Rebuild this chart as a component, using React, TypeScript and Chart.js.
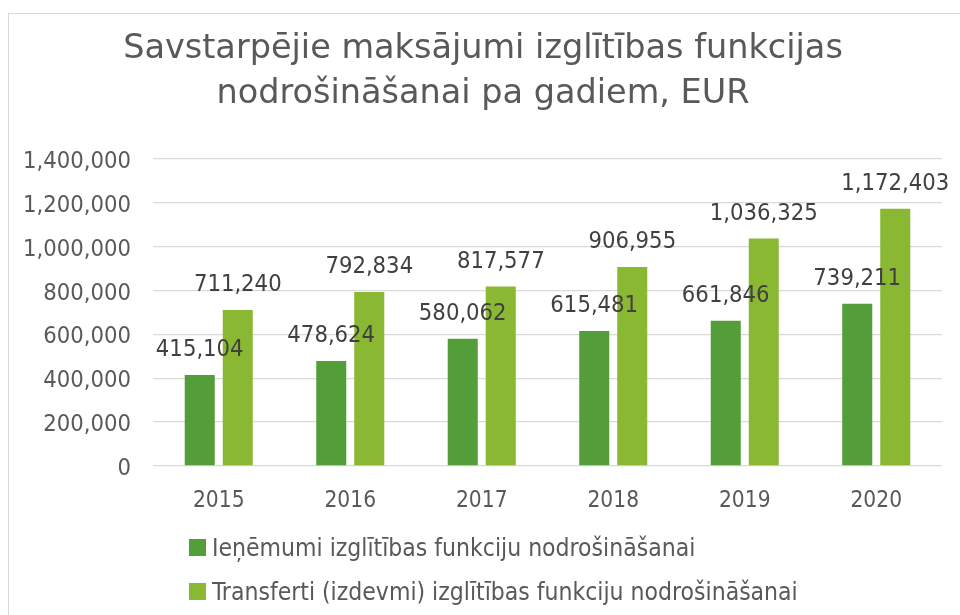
import React, { useEffect, useRef } from 'react';
import { Chart, registerables } from 'chart.js';

Chart.register(...registerables);

const categories = ['2015', '2016', '2017', '2018', '2019', '2020'];
const revenueValues = [415104, 478624, 580062, 615481, 661846, 739211];
const transferValues = [711240, 792834, 817577, 906955, 1036325, 1172403];
const seriesNames = [
  'Ieņēmumi izglītības funkciju nodrošināšanai',
  'Transferti (izdevmi) izglītības funkciju nodrošināšanai',
];
const seriesColors = ['#549E39', '#8AB833'];
const titleLines = ['Savstarpējie maksājumi izglītības funkcijas', 'nodrošināšanai pa gadiem, EUR'];
const yMin = 0;
const yMax = 1400000;
const yStep = 200000;

const FONT = '"DejaVu Sans Condensed", "DejaVu Sans", sans-serif';
const TITLE_FONT = '"DejaVu Sans", sans-serif';
const fmt = (v: number) => v.toLocaleString('en-US');

const borderPlugin = {
  id: 'outerBorder',
  beforeDraw(chart: any) {
    const ctx = chart.ctx;
    ctx.save();
    ctx.fillStyle = '#ffffff';
    ctx.fillRect(0, 0, chart.width, chart.height);
    ctx.strokeStyle = '#d9d9d9';
    ctx.lineWidth = 1;
    ctx.strokeRect(8.5, 13.5, chart.width + 100, chart.height + 100);
    ctx.restore();
  },
};

const dataLabelPlugin = {
  id: 'barValueLabels',
  afterDatasetsDraw(chart: any) {
    const ctx = chart.ctx;
    ctx.save();
    ctx.font = `23.6px ${FONT}`;
    ctx.fillStyle = '#404040';
    ctx.textAlign = 'center';
    ctx.textBaseline = 'alphabetic';
    chart.data.datasets.forEach((ds: any, i: number) => {
      const meta = chart.getDatasetMeta(i);
      meta.data.forEach((bar: any, j: number) => {
        ctx.fillText(fmt(ds.data[j]), bar.x, bar.y - 19);
      });
    });
    ctx.restore();
  },
};

const legendPlugin = {
  id: 'leftLegend',
  afterDraw(chart: any) {
    const ctx = chart.ctx;
    const area = chart.chartArea;
    ctx.save();
    ctx.font = `24.5px ${FONT}`;
    ctx.textAlign = 'left';
    ctx.textBaseline = 'alphabetic';
    chart.data.datasets.forEach((ds: any, i: number) => {
      const x = area.left + 36;
      const y = area.bottom + 73 + i * 44;
      ctx.fillStyle = ds.backgroundColor;
      ctx.fillRect(x, y, 17, 17);
      ctx.fillStyle = '#595959';
      ctx.fillText(ds.label, x + 23, y + 16.5);
    });
    ctx.restore();
  },
};

export default function App() {
  const ref = useRef<HTMLCanvasElement | null>(null);

  useEffect(() => {
    document.body.style.margin = '0';
    const canvas = ref.current;
    if (!canvas) return;
    const chart = new Chart(canvas, {
      type: 'bar',
      data: {
        labels: categories,
        datasets: [
          {
            label: seriesNames[0],
            data: revenueValues,
            backgroundColor: seriesColors[0],
            categoryPercentage: 0.578,
            barPercentage: 0.79,
          },
          {
            label: seriesNames[1],
            data: transferValues,
            backgroundColor: seriesColors[1],
            categoryPercentage: 0.578,
            barPercentage: 0.79,
          },
        ],
      },
      options: {
        responsive: false,
        animation: false,
        maintainAspectRatio: false,
        layout: { padding: { left: 6, right: 0, top: 0, bottom: 0 } },
        plugins: {
          legend: { display: false },
          tooltip: { enabled: false },
          title: {
            display: true,
            text: titleLines,
            color: '#595959',
            font: { family: TITLE_FONT, size: 33.5, weight: 'normal', lineHeight: 1.34 },
            padding: { top: 27, bottom: 42 },
          },
        },
        scales: {
          x: {
            grid: { display: false, drawTicks: false },
            border: { display: false },
            ticks: {
              color: '#595959',
              font: { family: FONT, size: 22.5 },
              padding: 22,
            },
            afterFit: (s: any) => {
              s.height = 149;
            },
          },
          y: {
            min: yMin,
            max: yMax,
            grid: { color: '#d9d9d9', lineWidth: 1.3, drawTicks: false },
            border: { display: false },
            ticks: {
              stepSize: yStep,
              color: '#595959',
              font: { family: FONT, size: 23.6 },
              padding: 22,
              labelOffset: 3,
              callback: (v: any) => fmt(Number(v)),
            },
            afterFit: (s: any) => {
              s.width = 147;
            },
          },
          y2: {
            position: 'right',
            min: yMin,
            max: yMax,
            grid: { display: false },
            border: { display: false },
            ticks: { display: false },
            afterFit: (s: any) => {
              s.width = 18;
            },
          },
        },
      },
      plugins: [borderPlugin, dataLabelPlugin, legendPlugin],
    } as any);
    return () => chart.destroy();
  }, []);

  return (
    <div style={{ width: 960, height: 615 }}>
      <canvas ref={ref} width={960} height={615} style={{ display: 'block' }} />
    </div>
  );
}
